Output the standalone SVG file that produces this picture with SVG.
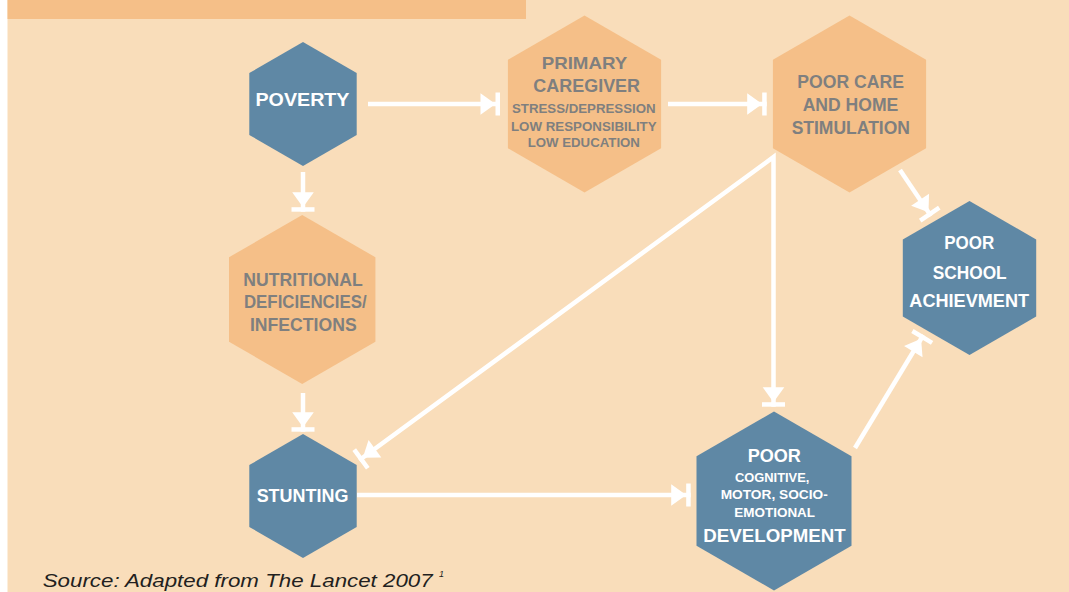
<svg xmlns="http://www.w3.org/2000/svg" width="1069" height="592" viewBox="0 0 1069 592">
  <style>
    .blue { fill: #5F88A5; }
    .orange { fill: #F5BF88; }
    .tw { font-family: "Liberation Sans", Arial, sans-serif; font-weight: bold; fill: #FFFFFF; text-anchor: middle; }
    .tg { font-family: "Liberation Sans", Arial, sans-serif; font-weight: bold; fill: #7F7F7F; text-anchor: middle; }
    .conn { fill: none; stroke: #FFFFFF; stroke-width: 4.5; stroke-linejoin: miter; }
    .src { font-family: "Liberation Sans", Arial, sans-serif; font-style: italic; fill: #231F20; }
  </style>
  <defs>
    <marker id="ah" markerUnits="userSpaceOnUse" markerWidth="40" markerHeight="40" refX="0" refY="0" orient="auto-start-reverse" overflow="visible">
      <path d="M-19.5,-10.8 L-4.5,0 L-19.5,10.8 Z" fill="#FFFFFF"/>
      <rect x="-4.5" y="-11.5" width="4.5" height="23" fill="#FFFFFF"/>
    </marker>
  </defs>

  <rect x="0" y="0" width="1069" height="592" fill="#FFFFFF"/>
  <rect x="7.5" y="0" width="1061.5" height="592" fill="#F9DDBA"/>
  <rect x="7.5" y="0" width="518.5" height="19" fill="#F5BF88"/>

  <g id="poverty">
    <polygon class="blue" points="303,42 356.7,73 356.7,135 303,166 249.3,135 249.3,73"/>
    <text class="tw" x="302.5" y="106" font-size="18.5" textLength="94" lengthAdjust="spacingAndGlyphs">POVERTY</text>
  </g>

  <g id="primary-caregiver">
    <polygon class="orange" points="584.5,15.5 661.1,59.75 661.1,148.25 584.5,192.5 507.9,148.25 507.9,59.75"/>
    <text class="tg" x="584.5" y="69" font-size="17" textLength="85.7" lengthAdjust="spacingAndGlyphs">PRIMARY</text>
    <text class="tg" x="586.7" y="91.7" font-size="17.5" textLength="106.7" lengthAdjust="spacingAndGlyphs">CAREGIVER</text>
    <text class="tg" x="583.8" y="113.3" font-size="13.5" textLength="143.7" lengthAdjust="spacingAndGlyphs">STRESS/DEPRESSION</text>
    <text class="tg" x="583.8" y="130.7" font-size="13.5" textLength="145.7" lengthAdjust="spacingAndGlyphs">LOW RESPONSIBILITY</text>
    <text class="tg" x="583.8" y="147.3" font-size="13.5" textLength="112.3" lengthAdjust="spacingAndGlyphs">LOW EDUCATION</text>
  </g>

  <g id="poor-care">
    <polygon class="orange" points="849.5,15.5 926.1,59.75 926.1,148.25 849.5,192.5 772.9,148.25 772.9,59.75"/>
    <text class="tg" x="850.7" y="87.7" font-size="18.5" textLength="106.7" lengthAdjust="spacingAndGlyphs">POOR CARE</text>
    <text class="tg" x="850.5" y="111" font-size="18.5" textLength="95.7" lengthAdjust="spacingAndGlyphs">AND HOME</text>
    <text class="tg" x="850.8" y="134" font-size="18.5" textLength="118.3" lengthAdjust="spacingAndGlyphs">STIMULATION</text>
  </g>

  <g id="poor-school">
    <polygon class="blue" points="969.5,201 1036.2,239.5 1036.2,316.5 969.5,355 902.8,316.5 902.8,239.5"/>
    <text class="tw" x="969.3" y="249.3" font-size="18" textLength="50" lengthAdjust="spacingAndGlyphs">POOR</text>
    <text class="tw" x="969.7" y="279" font-size="18" textLength="74" lengthAdjust="spacingAndGlyphs">SCHOOL</text>
    <text class="tw" x="969.2" y="306.7" font-size="18" textLength="119.7" lengthAdjust="spacingAndGlyphs">ACHIEVMENT</text>
  </g>

  <g id="nutritional">
    <polygon class="orange" points="302.2,215 375.4,257.25 375.4,341.75 302.2,384 229,341.75 229,257.25"/>
    <text class="tg" x="303" y="286" font-size="18.5" textLength="119.3" lengthAdjust="spacingAndGlyphs">NUTRITIONAL</text>
    <text class="tg" x="305.3" y="308.3" font-size="18.5" textLength="122.7" lengthAdjust="spacingAndGlyphs">DEFICIENCIES/</text>
    <text class="tg" x="303.3" y="330.7" font-size="18.5" textLength="106.7" lengthAdjust="spacingAndGlyphs">INFECTIONS</text>
  </g>

  <g id="stunting">
    <polygon class="blue" points="303,434 356.7,465 356.7,527 303,558 249.3,527 249.3,465"/>
    <text class="tw" x="302.5" y="502.3" font-size="18.5" textLength="91.7" lengthAdjust="spacingAndGlyphs">STUNTING</text>
  </g>

  <g id="poor-development">
    <polygon class="blue" points="774,411.5 851.5,456.25 851.5,545.75 774,590.5 696.5,545.75 696.5,456.25"/>
    <text class="tw" x="774.3" y="461.7" font-size="18" textLength="53.3" lengthAdjust="spacingAndGlyphs">POOR</text>
    <text class="tw" x="772.2" y="482.3" font-size="12.5" textLength="74.3" lengthAdjust="spacingAndGlyphs">COGNITIVE,</text>
    <text class="tw" x="774.2" y="499.3" font-size="12.5" textLength="107" lengthAdjust="spacingAndGlyphs">MOTOR, SOCIO-</text>
    <text class="tw" x="774.7" y="516.7" font-size="12.5" textLength="80.7" lengthAdjust="spacingAndGlyphs">EMOTIONAL</text>
    <text class="tw" x="774.5" y="542.3" font-size="18" textLength="142.3" lengthAdjust="spacingAndGlyphs">DEVELOPMENT</text>
  </g>

  <g id="connectors">
    <path class="conn" d="M368,104 H500" marker-end="url(#ah)"/>
    <path class="conn" d="M668,104 H766.7" marker-end="url(#ah)"/>
    <path class="conn" d="M303,172 V211.7" marker-end="url(#ah)"/>
    <path class="conn" d="M303,393 V431.7" marker-end="url(#ah)"/>
    <path class="conn" d="M359.2,460.3 L773.5,157 L773.5,406.7" marker-start="url(#ah)" marker-end="url(#ah)"/>
    <path class="conn" d="M900,170 L931,216" marker-end="url(#ah)"/>
    <path class="conn" d="M357,495 H690.7" marker-end="url(#ah)"/>
    <path class="conn" d="M855,448 L923.4,335" marker-end="url(#ah)"/>
  </g>

  <text class="src" x="42.7" y="587.3" font-size="18.5" textLength="390" lengthAdjust="spacingAndGlyphs">Source: Adapted from The Lancet 2007</text>
  <text class="src" x="439" y="577.3" font-size="9">1</text>
</svg>
